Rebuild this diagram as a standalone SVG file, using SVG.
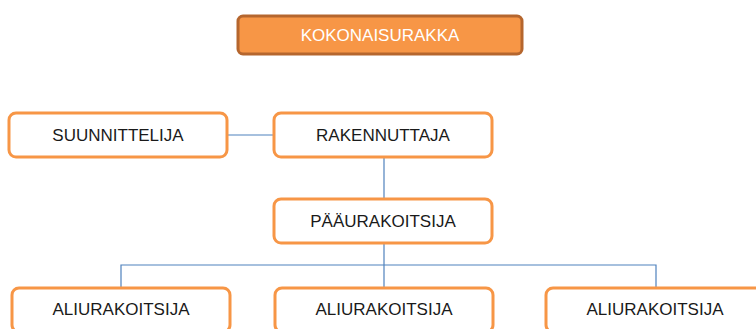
<svg xmlns="http://www.w3.org/2000/svg" width="756" height="329" viewBox="0 0 756 329">
<style>
.box{fill:#ffffff;stroke:#F79646;stroke-width:3}
.top{fill:#F79646;stroke:#B5662E;stroke-width:3}
.t{font-family:"Liberation Sans",Arial,sans-serif;font-size:17px;fill:#1a1a1a;text-anchor:middle;dominant-baseline:central}
.tw{fill:#ffffff}
.c{stroke:#4F81BD;stroke-width:1.2;fill:none}
</style>
<rect width="756" height="329" fill="#ffffff"/>
<g id="connectors">
<path class="c" d="M227 135 H274"/>
<path class="c" d="M384 157 V199"/>
<path class="c" d="M384 243 V288"/>
<path class="c" d="M121 288 V265 H656 V288"/>
</g>
<g id="kokonaisurakka">
<rect class="top" x="238" y="16" width="284" height="38" rx="5"/>
<text class="t tw" x="380" y="35">KOKONAISURAKKA</text>
</g>
<g id="suunnittelija">
<rect class="box" x="9" y="113" width="218" height="44" rx="7"/>
<text class="t" x="118" y="135">SUUNNITTELIJA</text>
</g>
<g id="rakennuttaja">
<rect class="box" x="274" y="113" width="218" height="44" rx="7"/>
<text class="t" x="383" y="135">RAKENNUTTAJA</text>
</g>
<g id="paaurakoitsija">
<rect class="box" x="274" y="199" width="218" height="44" rx="7"/>
<text class="t" x="383" y="221">PÄÄURAKOITSIJA</text>
</g>
<g id="aliurakoitsija1">
<rect class="box" x="12" y="288" width="218" height="44" rx="7"/>
<text class="t" x="121" y="309">ALIURAKOITSIJA</text>
</g>
<g id="aliurakoitsija2">
<rect class="box" x="275" y="288" width="218" height="44" rx="7"/>
<text class="t" x="384" y="309">ALIURAKOITSIJA</text>
</g>
<g id="aliurakoitsija3">
<rect class="box" x="546" y="288" width="218" height="44" rx="7"/>
<text class="t" x="655" y="309">ALIURAKOITSIJA</text>
</g>
</svg>
